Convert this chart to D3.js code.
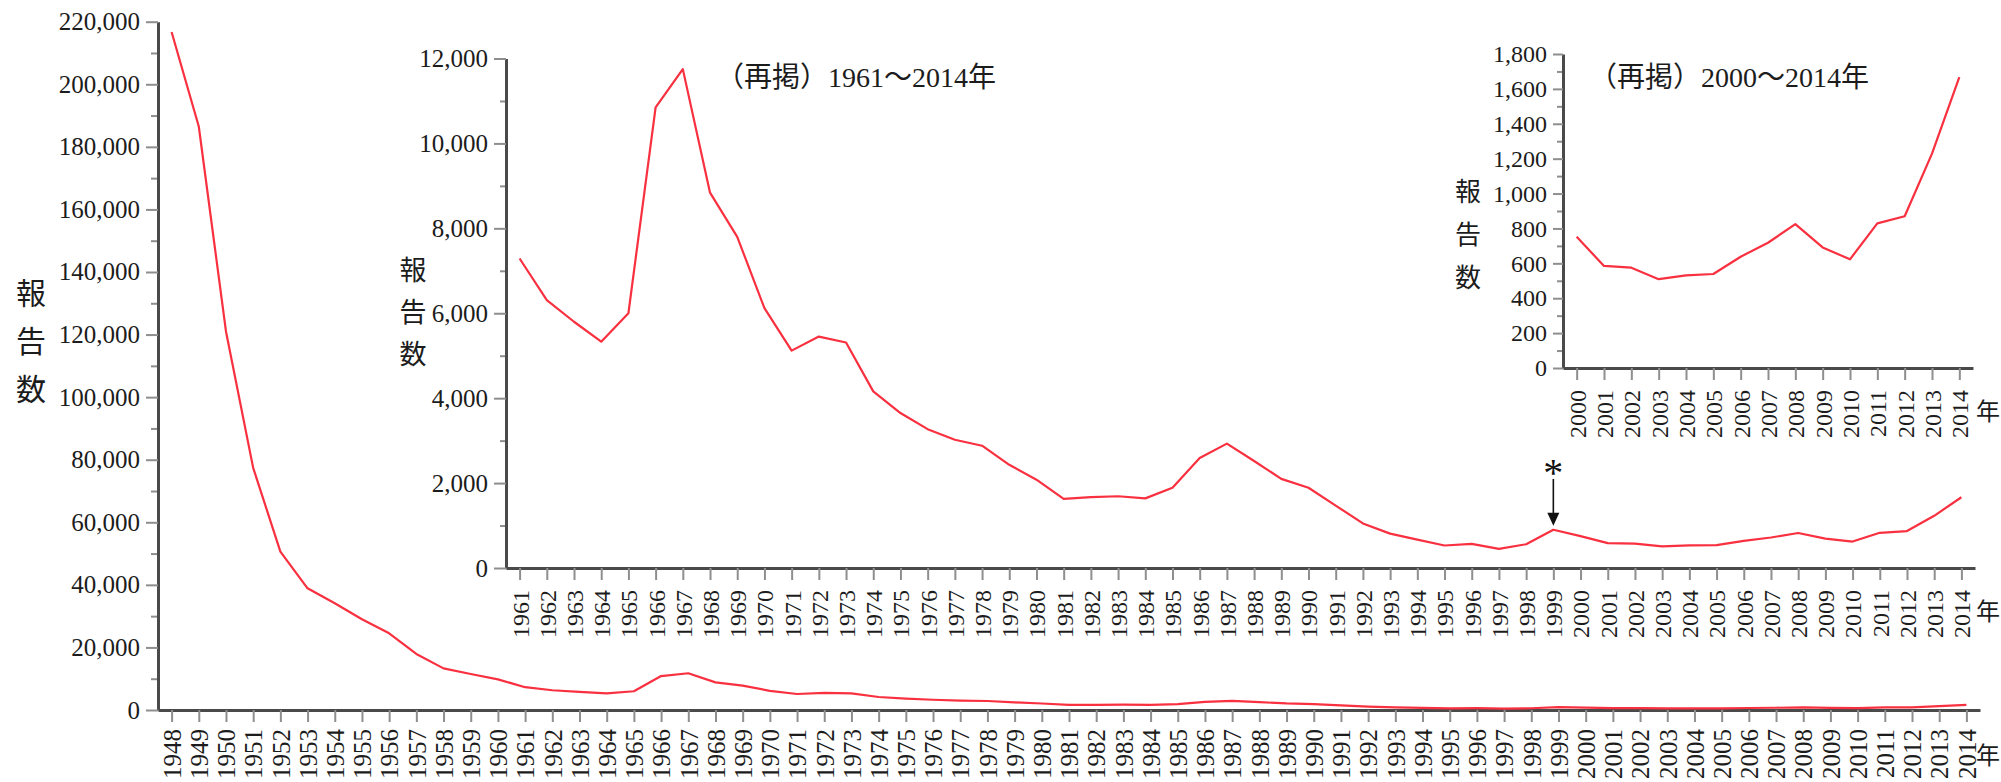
<!DOCTYPE html>
<html>
<head>
<meta charset="utf-8">
<script src="https://cdnjs.cloudflare.com/ajax/libs/d3/7.8.5/d3.min.js"></script>
<style>
    body { margin: 0; background: #fff; }
    svg { display: block; }
    .tick text { fill: #1c1c1c; font-family: "Liberation Serif", serif; }
    .domain { stroke: #4a4a4a; stroke-width: 3; }
    .tick line { stroke: #8e8e8e; stroke-width: 2; }
    .cjk { font-family: "Noto Sans CJK JP", sans-serif; fill: #1c1c1c; }
</style>
</head>
<body>
<div id="chart"></div>
<script>
// Years on the x axis (categories)
var years = d3.range(1948, 2015);

// Reports per year
var reports = [
    216700, 186500, 121000, 77400, 50600, 38900, 34100, 29000, 24500, 17900,
    13300, 11500, 9800,
    7290, 6310, 5800, 5330, 6000, 10850, 11750, 8840, 7800, 6120,
    5120, 5450, 5310, 4160, 3650, 3270, 3020, 2880, 2430, 2080,
    1630, 1670, 1690, 1640, 1890, 2590, 2930, 2520, 2100, 1890,
    1470, 1050, 810, 670, 530, 570, 450, 560, 900,
    752, 585, 575, 509, 531, 539, 638, 718, 825, 691, 623, 829, 870, 1229, 1667
];

// Tick values
var mainTicks = [0, 20000, 40000, 60000, 80000, 100000, 120000, 140000, 160000, 180000, 200000, 220000];
var mainMinor = [10000, 30000, 50000, 70000, 90000, 110000, 130000, 150000, 170000, 190000, 210000];
var midTicks = [0, 2000, 4000, 6000, 8000, 10000, 12000];
var midMinor = [1000, 3000, 5000, 7000, 9000, 11000];
var smallTicks = [0, 200, 400, 600, 800, 1000, 1200, 1400, 1600, 1800];
var smallMinor = [100, 300, 500, 700, 900, 1100, 1300, 1500, 1700];

var yLabel = ["報", "告", "数"];
var yearUnit = "年";
var midTitle = "（再掲）1961～2014年";
var smallTitle = "（再掲）2000～2014年";
var noteYear = 1999;

var width = 2001;
var height = 782;

var data = years.map(function (y, i) { return {year: y, count: reports[i]}; });

var svg = d3.select('#chart')
    .append('svg')
    .attr('width', width)
    .attr('height', height);

var fmt = d3.format(',');

function DrawPanel(p) {
    var sub = data.filter(function (d) { return d.year >= p.from; });

    var x = d3.scalePoint()
        .domain(sub.map(function (d) { return d.year; }))
        .range(p.xRange)
        .padding(0.5);

    var y = d3.scaleLinear()
        .domain([0, p.max])
        .range(p.yRange);

    var g = svg.append('g');

    // minor ticks first
    g.append('g')
        .attr('transform', 'translate(' + p.xRange[0] + ',0)')
        .call(d3.axisLeft(y).tickValues(p.minor).tickSize(p.minorSize).tickFormat(''))
        .call(function (a) { a.select('.domain').remove(); });

    var yAxis = g.append('g')
        .attr('transform', 'translate(' + p.xRange[0] + ',0)')
        .call(d3.axisLeft(y).tickValues(p.ticks).tickSize(p.tickSize)
            .tickSizeOuter(0).tickPadding(6).tickFormat(fmt));
    yAxis.selectAll('.tick text')
        .style('font-size', p.yFont + 'px');

    var xAxis = g.append('g')
        .attr('transform', 'translate(0,' + p.yRange[0] + ')')
        .call(d3.axisBottom(x).tickSize(12).tickSizeOuter(0));
    xAxis.selectAll('.tick text')
        .style('font-size', p.xFont + 'px')
        .attr('transform', 'rotate(-90)')
        .attr('text-anchor', 'end')
        .attr('x', -p.labelGap)
        .attr('y', 0)
        .attr('dy', '0.35em');

    g.append('path')
        .datum(sub)
        .attr('fill', 'none')
        .attr('stroke', '#f8303f')
        .attr('stroke-width', 2.2)
        .attr('stroke-linejoin', 'round')
        .attr('d', d3.line()
            .x(function (d) { return x(d.year); })
            .y(function (d) { return y(d.count); }));

    // vertical axis title
    g.selectAll('.ylab')
        .data(yLabel)
        .enter()
        .append('text')
            .attr('class', 'cjk')
            .attr('x', p.yLabX)
            .attr('y', function (d, i) { return p.yLabY + i * p.yLabStep; })
            .attr('text-anchor', 'middle')
            .attr('dominant-baseline', 'central')
            .style('font-size', p.yLabFont + 'px')
            .text(function (d) { return d; });

    g.append('text')
        .attr('class', 'cjk')
        .attr('x', 1988)
        .attr('y', p.unitY)
        .attr('text-anchor', 'middle')
        .attr('dominant-baseline', 'central')
        .style('font-size', '24px')
        .text(yearUnit);

    if (p.title) {
        g.append('text')
            .attr('x', p.titleX)
            .attr('y', 87)
            .style('font-family', '"Liberation Serif", "Noto Sans CJK JP", serif')
            .style('font-size', '28px')
            .style('fill', '#1c1c1c')
            .text(p.title);
    }

    return {x: x, y: y, g: g};
}

var main = DrawPanel({
    from: 1948, max: 220000,
    xRange: [158, 1980], yRange: [710, 21.7],
    ticks: mainTicks, minor: mainMinor, tickSize: 12, minorSize: 7,
    yFont: 25, xFont: 25, labelGap: 19,
    yLabX: 31, yLabY: 291, yLabStep: 48, yLabFont: 30,
    unitY: 753
});

var mid = DrawPanel({
    from: 1961, max: 12000,
    xRange: [506, 1975], yRange: [568, 58.5],
    ticks: midTicks, minor: midMinor, tickSize: 12, minorSize: 6,
    yFont: 25, xFont: 24, labelGap: 22,
    yLabX: 413, yLabY: 268, yLabStep: 42, yLabFont: 27,
    unitY: 609,
    title: midTitle, titleX: 716
});

var small = DrawPanel({
    from: 2000, max: 1800,
    xRange: [1563, 1973], yRange: [368, 54],
    ticks: smallTicks, minor: smallMinor, tickSize: 10, minorSize: 6,
    yFont: 24, xFont: 24, labelGap: 22,
    yLabX: 1468, yLabY: 189, yLabStep: 43, yLabFont: 26,
    unitY: 409,
    title: smallTitle, titleX: 1589
});

// asterisk note with arrow at 1999
var nx = mid.x(noteYear);
var tipY = mid.y(reports[years.indexOf(noteYear)]) - 4;
svg.append('line')
    .attr('x1', nx).attr('x2', nx)
    .attr('y1', 479).attr('y2', tipY - 10)
    .attr('stroke', '#111')
    .attr('stroke-width', 1.6);
svg.append('path')
    .attr('d', 'M' + (nx - 6) + ',' + (tipY - 13) + 'L' + (nx + 6) + ',' + (tipY - 13) + 'L' + nx + ',' + tipY + 'Z')
    .attr('fill', '#111');
svg.append('text')
    .attr('x', nx)
    .attr('y', 486)
    .attr('text-anchor', 'middle')
    .style('font-family', '"Liberation Serif", serif')
    .style('font-size', '40px')
    .style('fill', '#111')
    .text('*');
</script>
</body>
</html>
